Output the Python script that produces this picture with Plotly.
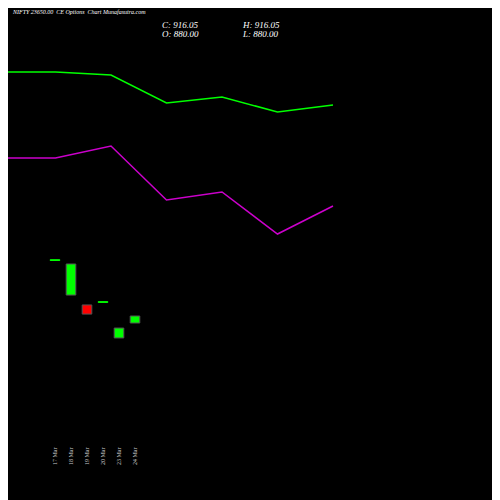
import plotly.graph_objects as go

dates = ["17 Mar", "18 Mar", "19 Mar", "20 Mar", "23 Mar", "24 Mar"]
opens = [1204, 1024, 973, 988, 803, 880.00]
closes = [1204, 1184, 926, 988, 854, 916.05]
line_green = [428, 428, 425, 397, 403, 388, 395]
line_magenta = [342, 342, 354, 300, 308, 266, 294]

S = 8  # page body offset compensation (px)
fig = go.Figure()
idx = list(range(len(dates)))
colors, lcolors, bases, heights = [], [], [], []
for o, c in zip(opens, closes):
    if c == o:
        colors.append("#00ff00"); lcolors.append("#00ff00"); bases.append(o - 2); heights.append(4)
    else:
        colors.append("#00ff00" if c > o else "#ff0000"); lcolors.append("#555555")
        bases.append(min(o, c)); heights.append(abs(c - o))
fig.add_trace(go.Bar(x=idx, y=heights, base=bases, width=0.6,
                     marker=dict(color=colors, line=dict(color=lcolors, width=1))))
fig.add_trace(go.Scatter(x=list(range(len(line_green))), y=line_green, mode="lines",
                         line=dict(color="#00ff00", width=1.5), xaxis="x2", yaxis="y2"))
fig.add_trace(go.Scatter(x=list(range(len(line_magenta))), y=line_magenta, mode="lines",
                         line=dict(color="#cc00cc", width=1.5), xaxis="x2", yaxis="y2"))

def px(xp): return (xp - S) / 500
def py(yp): return 1 - (yp - S) / 500

for i, d in enumerate(dates):
    fig.add_annotation(x=i, y=py(445), xref="x", yref="paper", text=d, textangle=-90,
                       showarrow=False, yanchor="top",
                       font=dict(family="Liberation Serif", size=6, color="#cccccc"))

ser = dict(family="Liberation Serif", color="white")
fig.add_annotation(x=px(10), y=py(12), xref="paper", yref="paper", xanchor="left", yanchor="middle",
                   text="<i>NIFTY 23650.00  CE Options  Chart Munafasutra.com</i>", showarrow=False,
                   font=dict(size=6, **ser))
for txt, xx, yy in [("C: 916.05", 160, 25), ("O: 880.00", 160, 34), ("H: 916.05", 240, 25), ("L: 880.00", 240, 34)]:
    fig.add_annotation(x=px(xx), y=py(yy), xref="paper", yref="paper", xanchor="left", yanchor="middle",
                       text=f"<i>{txt}</i>", showarrow=False, font=dict(size=9, **ser))

fig.update_layout(width=500, height=500, margin=dict(l=0, r=0, t=0, b=0),
                  paper_bgcolor="black", plot_bgcolor="black", showlegend=False,
                  xaxis=dict(range=[-(55 - S)/16, (500 - 55 + S)/16], visible=False),
                  yaxis=dict(range=[916.05 - (184 + S)*5.15, 916.05 + (316 - S)*5.15], visible=False),
                  xaxis2=dict(range=[S/55.5, (500 + S)/55.5], overlaying="x", visible=False),
                  yaxis2=dict(range=[-S, 500 - S], overlaying="y", visible=False))
fig.write_html("out.html")
